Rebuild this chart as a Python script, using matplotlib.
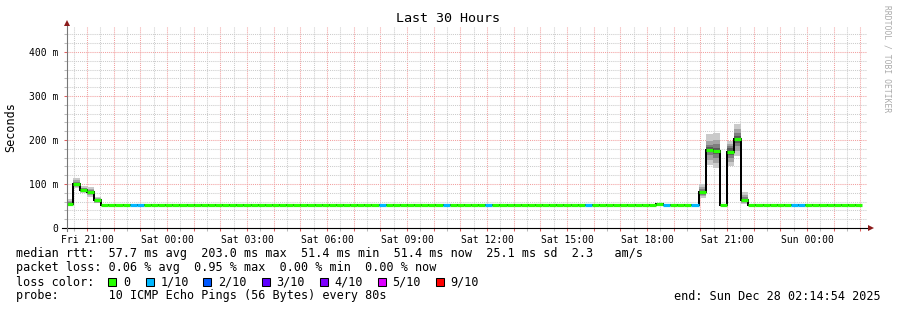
import matplotlib
matplotlib.use('Agg')
import matplotlib.pyplot as plt
from matplotlib.patches import Rectangle
from matplotlib.ticker import MultipleLocator, FixedLocator, FuncFormatter

# ---------------- data ----------------
title = "Last 30 Hours"
y_label = "Seconds"
# time in hours since Fri Dec 26 00:00 (local)
view_start = 20.2483          # Fri 20:14:54
view_end = 50.2483            # Sun 02:14:54
first_step_start = 20.2       # first consolidated step boundary
step_hours = 960 / 3600.0     # 16 min consolidation step

tick_hours = [21, 24, 27, 30, 33, 36, 39, 42, 45, 48]
tick_labels = ["Fri 21:00", "Sat 00:00", "Sat 03:00", "Sat 06:00", "Sat 09:00",
               "Sat 12:00", "Sat 15:00", "Sat 18:00", "Sat 21:00", "Sun 00:00"]
y_tick_values = [0, 100, 200, 300, 400]
y_tick_labels = ["0", "100 m", "200 m", "300 m", "400 m"]
y_max = 458

# median rtt per step (ms)
median_ms = [
    53.9, 99.0, 86.0, 82.6, 63.6, 51.4, 51.4, 51.4, 51.4, 51.4, 51.4, 51.4, 51.4, 51.4,
    51.4, 51.4, 51.4, 51.4, 51.4, 51.4, 51.4, 51.4, 51.4, 51.4, 51.4, 51.4, 51.4, 51.4,
    51.4, 51.4, 51.4, 51.4, 51.4, 51.4, 51.4, 51.4, 51.4, 51.4, 51.4, 51.4, 51.4, 51.4,
    51.4, 51.4, 51.4, 51.4, 51.4, 51.4, 51.4, 51.4, 51.4, 51.4, 51.4, 51.4, 51.4, 51.4,
    51.4, 51.4, 51.4, 51.4, 51.4, 51.4, 51.4, 51.4, 51.4, 51.4, 51.4, 51.4, 51.4, 51.4,
    51.4, 51.4, 51.4, 51.4, 51.4, 51.4, 51.4, 51.4, 51.4, 51.4, 51.4, 51.4, 51.4, 54.0,
    51.4, 51.4, 51.4, 51.4, 51.4, 81.0, 178.0, 175.0, 51.4, 173.5, 203.0, 63.6, 52.3, 51.4,
    51.4, 51.4, 51.4, 51.4, 51.4, 51.4, 51.4, 51.4, 51.4, 51.4, 51.4, 51.4, 51.4, 51.4,
]
# lost pings (out of 10) per step
loss_tenths = [
    0, 0, 0, 0, 0, 0, 0, 0, 0, 1, 1, 0, 0, 0,
    0, 0, 0, 0, 0, 0, 0, 0, 0, 0, 0, 0, 0, 0,
    0, 0, 0, 0, 0, 0, 0, 0, 0, 0, 0, 0, 0, 0,
    0, 0, 1, 0, 0, 0, 0, 0, 0, 0, 0, 1, 0, 0,
    0, 0, 0, 1, 0, 0, 0, 0, 0, 0, 0, 0, 0, 0,
    0, 0, 0, 1, 0, 0, 0, 0, 0, 0, 0, 0, 0, 0,
    1, 0, 0, 0, 1, 0, 0, 0, 0, 0, 0, 0, 0, 0,
    0, 0, 0, 0, 1, 1, 0, 0, 0, 0, 0, 0, 0, 0,
]
# sorted ping times (ms) for steps with visible smoke
smoke_index = [0, 1, 2, 3, 4, 83, 89, 90, 91, 93, 94, 95, 96]
smoke_pings = [
    [50.5, 51.5, 52.5, 53.2, 53.8, 54.0, 56.0, 58.5, 62.0, 65.7],
    [91, 93, 95, 97, 98.5, 99.5, 101, 104, 108, 113],
    [79, 81, 83, 84.5, 85.5, 86.5, 88, 90, 92, 95],
    [71, 74, 77, 80, 82, 83, 85, 87, 89, 92.4],
    [56, 57.5, 59, 61, 63, 64, 65.5, 67, 69, 71],
    [51.5, 52, 52.5, 53, 53.8, 54.2, 55, 55.5, 56, 57],
    [69, 72, 75, 78, 80, 82, 85, 89, 94, 100],
    [144, 154, 166, 172, 177, 179, 183, 189, 198, 214],
    [136, 148, 160, 168, 174, 176, 182, 190, 200, 216],
    [142, 150, 158, 166, 172, 176, 181, 186, 192, 198],
    [164, 175, 186, 194, 201, 205, 210, 217, 225, 236],
    [54, 56, 58, 61, 63, 64, 66, 70, 75, 82.6],
    [51, 51.2, 51.5, 51.8, 52.1, 52.5, 53, 53.5, 54, 55],
]

loss_levels = [0, 1, 2, 3, 4, 5, 9]
loss_names = ["0", "1/10", "2/10", "3/10", "4/10", "5/10", "9/10"]
loss_colors = ["#26ff00", "#00b8ff", "#0059ff", "#5e00ff", "#7e00ff", "#dd00ff", "#ff0000"]

legend_rtt = "median rtt:  57.7 ms avg  203.0 ms max  51.4 ms min  51.4 ms now  25.1 ms sd  2.3   am/s"
legend_loss = "packet loss: 0.06 % avg  0.95 % max  0.00 % min  0.00 % now"
legend_color_label = "loss color:"
legend_probe = "probe:       10 ICMP Echo Pings (56 Bytes) every 80s"
legend_end = "end: Sun Dec 28 02:14:54 2025"
watermark = "RRDTOOL / TOBI OETIKER"

# ---------------- drawing ----------------
plt.rcParams['font.family'] = ['DejaVu Sans Mono', 'DejaVu Sans']
W, H = 897, 310
fig = plt.figure(figsize=(W / 100, H / 100), dpi=100)
fig.patch.set_facecolor('white')

def fx(x):
    return x / W

def fy(y):
    return 1 - y / H

ax = fig.add_axes([fx(67), fy(228), 800 / W, (228 - 26.5) / H])
ax.set_facecolor('white')
ax.set_xlim(view_start, view_end)
ax.set_ylim(0, y_max)
ax.set_axisbelow(True)
for s in ax.spines.values():
    s.set_visible(False)

px_x = (view_end - view_start) / 800.0
px_y = y_max / 201.5

n = len(median_ms)
edges = [first_step_start + i * step_hours for i in range(n + 1)]

# grid & ticks
ax.xaxis.set_major_locator(MultipleLocator(1))
ax.xaxis.set_minor_locator(MultipleLocator(0.5))
label_map = dict(zip(tick_hours, tick_labels))
ax.xaxis.set_major_formatter(FuncFormatter(
    lambda v, p: label_map.get(int(round(v)), '') if abs(v - round(v)) < 1e-6 else ''))
ax.yaxis.set_major_locator(FixedLocator(y_tick_values))
ax.yaxis.set_minor_locator(MultipleLocator(20))
ax.set_yticklabels(y_tick_labels)

major_c = '#f2a0a0'
minor_c = '#cccccc'
ax.grid(which='major', color=major_c, linestyle=(0, (1, 1)), linewidth=0.75)
ax.grid(which='minor', color=minor_c, linestyle=(0, (1, 1)), linewidth=0.75)
ax.tick_params(which='major', direction='out', length=2.5, width=0.75, color='#e06060',
               labelsize=7, pad=2.5)
ax.tick_params(which='minor', direction='out', length=2, width=0.75, color='#bbbbbb')
ax.tick_params(axis='y', which='major', pad=3.5)

# smoke
shades = ['#cacaca', '#a4a4a4', '#7e7e7e', '#585858', '#323232']
for idx, pings in zip(smoke_index, smoke_pings):
    for i in range(5):
        lo, hi = pings[i], pings[9 - i]
        ax.bar(edges[idx], hi - lo, bottom=lo, width=step_hours, align='edge',
               color=shades[i], linewidth=0, zorder=2)

# median line
ax.stairs(median_ms, edges, baseline=None, color='#000000', linewidth=1.44, zorder=3)
col_of = dict(zip(loss_levels, loss_colors))
ax.hlines(median_ms, edges[:-1], edges[1:], colors=[col_of[l] for l in loss_tenths],
          linewidth=2.3, capstyle='butt', zorder=4)

# axes lines and arrows
ax.plot([view_start - 5 * px_x, view_end + 2 * px_x], [0, 0], color='black',
        linewidth=0.8, clip_on=False, zorder=5)
ax.plot([view_start, view_start], [-3 * px_y, y_max + 3 * px_y], color='#777777',
        linewidth=0.8, clip_on=False, zorder=5)
ax.plot([view_end + 4 * px_x], [0], marker='>', markersize=4, color='#8b1a1a',
        markeredgewidth=0, clip_on=False, zorder=6)
ax.plot([view_start], [y_max + 4 * px_y], marker='^', markersize=4, color='#8b1a1a',
        markeredgewidth=0, clip_on=False, zorder=6)

# texts
fig.text(fx(448), fy(19), title, ha='center', va='center', fontsize=9.6)
fig.text(fx(11), fy(127), y_label, ha='center', va='center', rotation=90, fontsize=8.5)
fig.text(fx(887), fy(5), watermark, ha='center', va='top', rotation=270, fontsize=5.8,
         color='#aaaaaa')

fs = 8.5
fig.text(fx(16), fy(254), legend_rtt, ha='left', va='center', fontsize=fs)
fig.text(fx(16), fy(268), legend_loss, ha='left', va='center', fontsize=fs)
fig.text(fx(16), fy(282), legend_color_label, ha='left', va='center', fontsize=fs)
sq_x = [108, 145.7, 203, 261.7, 320, 377.7, 435.7]
lab_x = [123, 160.7, 218, 276, 334, 391.7, 450]
for sx, lx, name, c in zip(sq_x, lab_x, loss_names, loss_colors):
    fig.patches.append(Rectangle((fx(sx), fy(286)), 8 / W, 8 / H, transform=fig.transFigure,
                                 facecolor=c, edgecolor='black', linewidth=0.75))
    fig.text(fx(lx), fy(282), name, ha='left', va='center', fontsize=fs)
fig.text(fx(16), fy(296), legend_probe, ha='left', va='center', fontsize=fs)
fig.text(fx(881), fy(296), legend_end, ha='right', va='center', fontsize=fs)

fig.savefig('out.png', dpi=100, facecolor='white')
